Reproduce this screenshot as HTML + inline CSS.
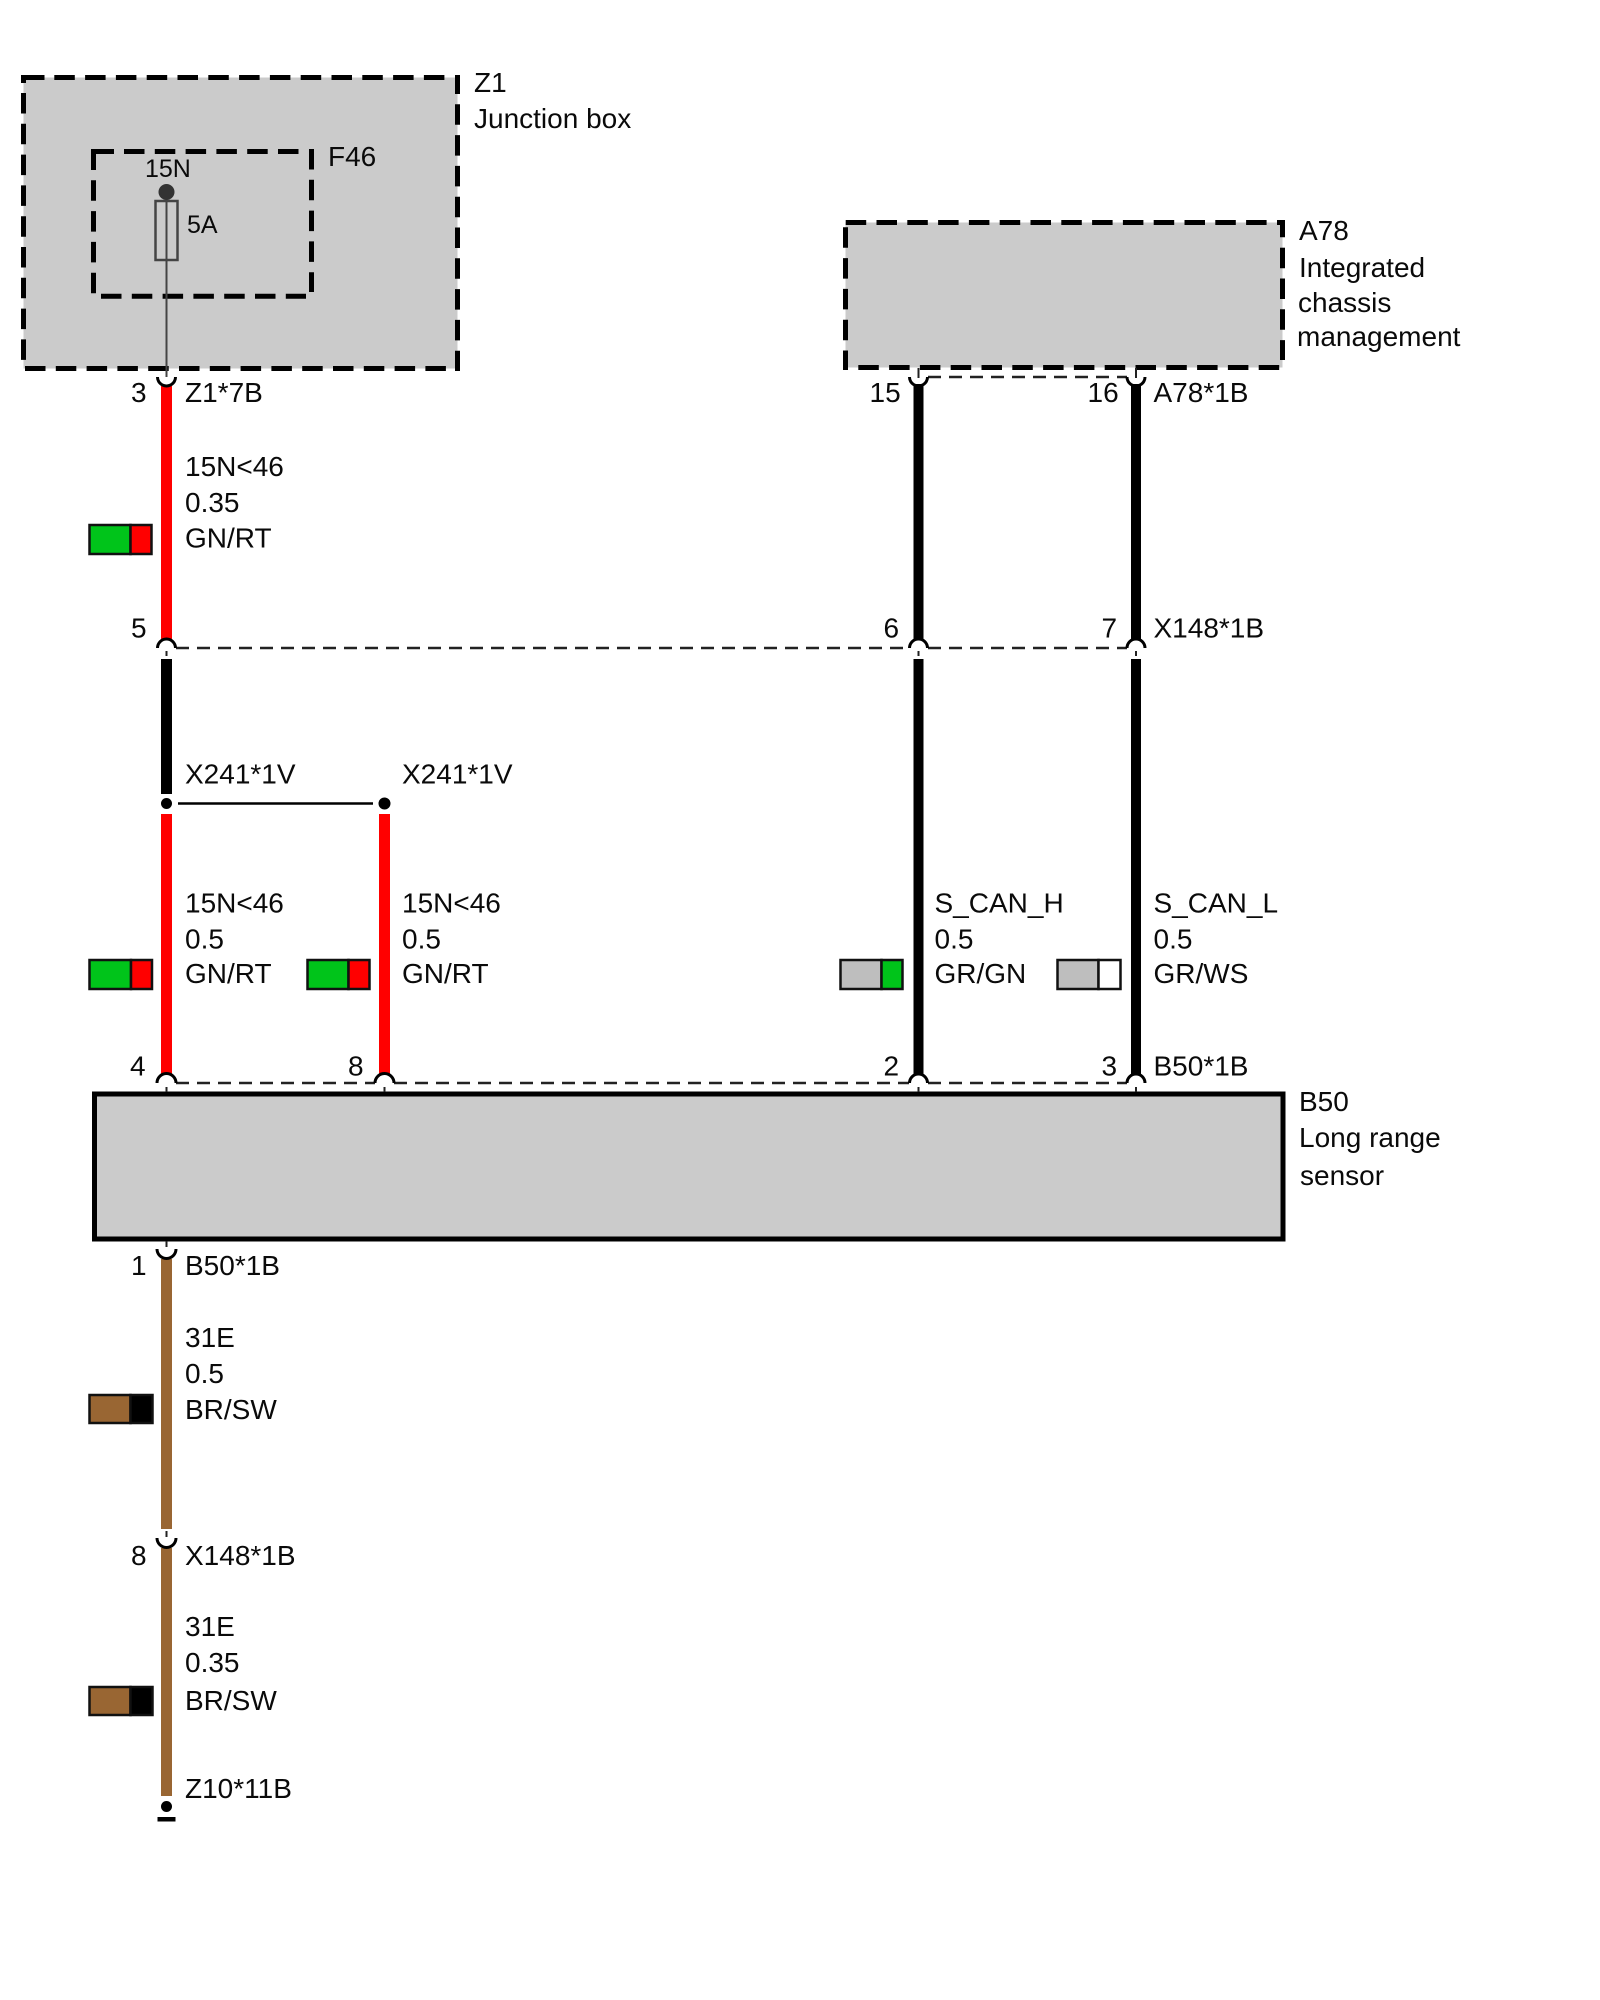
<!DOCTYPE html>
<html>
<head>
<meta charset="utf-8">
<style>
html,body{margin:0;padding:0;background:#fff;width:1600px;height:2000px;overflow:hidden}
svg{display:block}
text{font-family:"Liberation Sans",Arial,sans-serif;font-size:28px;fill:#0a0a0a}
.d{fill:none;stroke:#000;stroke-width:5;stroke-dasharray:20.5 10.3}
.s{fill:none;stroke:#000;stroke-width:5}
</style>
</head>
<body>
<svg width="1600" height="2000" viewBox="0 0 1600 2000" xmlns="http://www.w3.org/2000/svg">
<rect width="1600" height="2000" fill="#fff"/>

<!-- Z1 box -->
<rect x="23.500" y="77.500" width="434" height="291" fill="#cbcbcb"/>
<path class="s" d="M21 77.500H44.500M23.500 75V83M457.500 75V94"/>
<line class="d" x1="54.300" y1="77.500" x2="445" y2="77.500"/>
<line class="d" x1="23.500" y1="93" x2="23.500" y2="361"/>
<line class="d" x1="457.500" y1="104.300" x2="457.500" y2="371"/>
<line class="d" x1="25" y1="368.500" x2="446" y2="368.500"/>

<!-- F46 box -->
<path class="s" d="M91 151.500H114"/>
<line class="d" x1="124" y1="151.500" x2="299" y2="151.500"/>
<line class="d" x1="93.500" y1="149.500" x2="93.500" y2="293.500"/>
<line class="d" x1="311.500" y1="149" x2="311.500" y2="292"/>
<line class="d" x1="101" y1="296.300" x2="306" y2="296.300"/>

<!-- A78 box -->
<rect x="845.500" y="222.500" width="437" height="145" fill="#cbcbcb"/>
<path class="s" d="M1277 222.500H1285M1282.500 220V237.300"/>
<line class="d" x1="845.700" y1="222.500" x2="1267" y2="222.500"/>
<line class="d" x1="845.500" y1="227.300" x2="845.500" y2="370"/>
<line class="d" x1="1282.500" y1="247.700" x2="1282.500" y2="360"/>
<line class="d" x1="858.300" y1="367.500" x2="1280" y2="367.500"/>

<!-- B50 box -->
<rect x="94.500" y="1094" width="1188.500" height="145" fill="#cbcbcb" stroke="#000" stroke-width="5"/>

<!-- Fuse -->
<rect x="155.500" y="201" width="22" height="59" fill="none" stroke="#444" stroke-width="2.500"/>
<line x1="166.500" y1="192" x2="166.500" y2="377" stroke="#444" stroke-width="2"/>
<circle cx="166.500" cy="192" r="8" fill="#333"/>

<!-- Dashed connector lines -->
<g stroke="#222" stroke-width="2.500" stroke-dasharray="13 8" fill="none">
<line x1="176" y1="648" x2="909" y2="648"/>
<line x1="928" y1="648" x2="1127" y2="648"/>
<line x1="928" y1="377" x2="1127" y2="377"/>
<line x1="176" y1="1083" x2="375" y2="1083"/>
<line x1="394" y1="1083" x2="909" y2="1083"/>
<line x1="928" y1="1083" x2="1127" y2="1083"/>
</g>

<!-- Wires -->
<g fill="#f00">
<rect x="161" y="386" width="11" height="254"/>
<rect x="161" y="814" width="11" height="261"/>
<rect x="379" y="814" width="11" height="261"/>
</g>
<g fill="#000">
<rect x="161" y="659" width="11" height="135"/>
<rect x="913.500" y="384" width="10" height="258"/>
<rect x="1131" y="384" width="10" height="258"/>
<rect x="913.500" y="659" width="10" height="419"/>
<rect x="1131" y="659" width="10" height="419"/>
</g>
<g fill="#996633">
<rect x="161" y="1259" width="11" height="270"/>
<rect x="161" y="1548" width="11" height="248"/>
</g>

<!-- Pin arcs and ticks -->
<g fill="#fff" stroke="#000" stroke-width="3">
<path d="M157.500 377 A9 9 0 0 0 175.500 377" fill="none"/>
<path d="M909.500 377 A9 9 0 0 0 927.500 377" fill="none"/>
<path d="M1127 377 A9 9 0 0 0 1145 377" fill="none"/>
<path d="M157.500 648 A9 9 0 0 1 175.500 648"/>
<path d="M909.500 648 A9 9 0 0 1 927.500 648"/>
<path d="M1127 648 A9 9 0 0 1 1145 648"/>
<path d="M157 1083 A9.500 9.500 0 0 1 176 1083"/>
<path d="M375 1083 A9.500 9.500 0 0 1 394 1083"/>
<path d="M909.500 1083 A9 9 0 0 1 927.500 1083"/>
<path d="M1127 1083 A9 9 0 0 1 1145 1083"/>
<path d="M157 1249 A9.500 9.500 0 0 0 176 1249" fill="none"/>
<path d="M157 1538 A9.500 9.500 0 0 0 176 1538" fill="none"/>
</g>
<g stroke="#222" stroke-width="2">
<line x1="166.500" y1="651" x2="166.500" y2="656"/>
<line x1="918.500" y1="651" x2="918.500" y2="656"/>
<line x1="1136" y1="651" x2="1136" y2="656"/>
<line x1="918.500" y1="368" x2="918.500" y2="378"/>
<line x1="1136" y1="368" x2="1136" y2="378"/>
<line x1="166.500" y1="1087" x2="166.500" y2="1092"/>
<line x1="384.500" y1="1087" x2="384.500" y2="1092"/>
<line x1="918.500" y1="1087" x2="918.500" y2="1092"/>
<line x1="1136" y1="1087" x2="1136" y2="1092"/>
<line x1="166.500" y1="1241" x2="166.500" y2="1247"/>
<line x1="166.500" y1="1531" x2="166.500" y2="1537"/>
</g>

<!-- Splice -->
<line x1="178" y1="803.500" x2="373" y2="803.500" stroke="#000" stroke-width="2.500"/>
<circle cx="166.500" cy="803.500" r="5.500" fill="#000"/>
<circle cx="384.500" cy="803.500" r="6" fill="#000"/>

<!-- Ground -->
<circle cx="166.500" cy="1806.500" r="5.500" fill="#000"/>
<rect x="157.500" y="1817" width="18" height="4.500" fill="#000"/>

<!-- Colour swatches -->
<g stroke="#111" stroke-width="2.500">
<rect x="89.500" y="525" width="41" height="29" fill="#00c41a"/><rect x="130.500" y="525" width="21" height="29" fill="#f00"/>
<rect x="89.500" y="960" width="41.500" height="29" fill="#00c41a"/><rect x="131" y="960" width="21" height="29" fill="#f00"/>
<rect x="307.500" y="960" width="41" height="29" fill="#00c41a"/><rect x="348.500" y="960" width="21" height="29" fill="#f00"/>
<rect x="840.500" y="960" width="41" height="29" fill="#bebebe"/><rect x="881.500" y="960" width="21" height="29" fill="#00c41a"/>
<rect x="1057.500" y="960" width="41" height="29" fill="#bebebe"/><rect x="1098.500" y="960" width="22" height="29" fill="#fff"/>
<rect x="89.500" y="1395" width="41" height="28" fill="#996633"/><rect x="130.500" y="1395" width="22" height="28" fill="#000"/>
<rect x="89.500" y="1687" width="41" height="28" fill="#996633"/><rect x="130.500" y="1687" width="22" height="28" fill="#000"/>
</g>

<!-- Labels -->
<text x="474" y="92">Z1</text>
<text x="474" y="128">Junction box</text>
<text x="328" y="166">F46</text>
<text x="145" y="177" style="font-size:25px">15N</text>
<text x="187" y="233" style="font-size:25px">5A</text>

<text x="1299" y="240">A78</text>
<text x="1299" y="277">Integrated</text>
<text x="1298" y="312">chassis</text>
<text x="1297" y="346">management</text>

<text x="131" y="402">3</text>
<text x="185" y="402">Z1*7B</text>
<text x="185" y="476">15N&lt;46</text>
<text x="185" y="512">0.35</text>
<text x="185" y="547.500">GN/RT</text>
<text x="131" y="637.500">5</text>

<text x="869.500" y="402">15</text>
<text x="1087.500" y="402">16</text>
<text x="1153.500" y="402">A78*1B</text>
<text x="883.500" y="637.500">6</text>
<text x="1101.500" y="637.500">7</text>
<text x="1153.500" y="637.500">X148*1B</text>

<text x="185" y="783.500">X241*1V</text>
<text x="402" y="783.500">X241*1V</text>

<text x="185" y="912.500">15N&lt;46</text>
<text x="185" y="948.500">0.5</text>
<text x="185" y="983">GN/RT</text>
<text x="402" y="912.500">15N&lt;46</text>
<text x="402" y="948.500">0.5</text>
<text x="402" y="983">GN/RT</text>
<text x="934.500" y="912.500">S_CAN_H</text>
<text x="934.500" y="948.500">0.5</text>
<text x="934.500" y="983">GR/GN</text>
<text x="1153.500" y="912.500">S_CAN_L</text>
<text x="1153.500" y="948.500">0.5</text>
<text x="1153.500" y="983">GR/WS</text>

<text x="130" y="1075.500">4</text>
<text x="348" y="1075.500">8</text>
<text x="883.500" y="1075.500">2</text>
<text x="1101.500" y="1075.500">3</text>
<text x="1153.500" y="1075.500">B50*1B</text>

<text x="1299" y="1111">B50</text>
<text x="1299" y="1147">Long range</text>
<text x="1300" y="1185">sensor</text>

<text x="131" y="1275">1</text>
<text x="185" y="1275">B50*1B</text>
<text x="185" y="1347">31E</text>
<text x="185" y="1383">0.5</text>
<text x="185" y="1419">BR/SW</text>
<text x="131" y="1565">8</text>
<text x="185" y="1565">X148*1B</text>
<text x="185" y="1636">31E</text>
<text x="185" y="1672">0.35</text>
<text x="185" y="1710">BR/SW</text>
<text x="185" y="1798">Z10*11B</text>
</svg>
</body>
</html>
